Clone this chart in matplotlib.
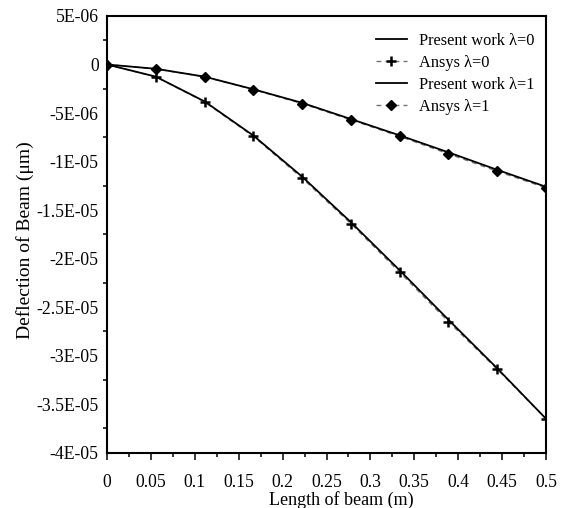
import matplotlib
matplotlib.use('Agg')
import matplotlib.pyplot as plt
from matplotlib.ticker import FixedLocator, FixedFormatter, MultipleLocator

plt.rcParams['font.family'] = ['Liberation Serif', 'DejaVu Serif']

# beam positions (m)
length = [0, 0.0556, 0.1111, 0.1667, 0.2222, 0.2778, 0.3333, 0.3889, 0.4444, 0.5]

# deflection, lambda = 0
present_l0 = [0, -1.25e-6, -3.80e-6, -7.32e-6, -11.55e-6, -16.25e-6, -21.2e-6, -26.3e-6, -31.3e-6, -36.5e-6]
ansys_l0 = [0, -1.27e-6, -3.85e-6, -7.40e-6, -11.7e-6, -16.4e-6, -21.4e-6, -26.5e-6, -31.4e-6, -36.5e-6]

# deflection, lambda = 1
present_l1 = [0, -0.44e-6, -1.25e-6, -2.55e-6, -3.95e-6, -5.62e-6, -7.30e-6, -9.05e-6, -10.85e-6, -12.6e-6]
ansys_l1 = [0, -0.45e-6, -1.27e-6, -2.58e-6, -4.02e-6, -5.70e-6, -7.40e-6, -9.20e-6, -11.0e-6, -12.7e-6]

y_ticks = [5e-6, 0, -5e-6, -1e-5, -1.5e-5, -2e-5, -2.5e-5, -3e-5, -3.5e-5, -4e-5]
y_labels = ['5E-06', '0', '-5E-06', '-1E-05', '-1.5E-05', '-2E-05', '-2.5E-05', '-3E-05', '-3.5E-05', '-4E-05']
x_ticks = [0, 0.05, 0.1, 0.15, 0.2, 0.25, 0.3, 0.35, 0.4, 0.45, 0.5]
x_labels = ['0', '0.05', '0.1', '0.15', '0.2', '0.25', '0.3', '0.35', '0.4', '0.45', '0.5']

fs = 12.7

fig = plt.figure(figsize=(5.63, 5.08), dpi=100)
ax = fig.add_axes([107 / 563, 1 - 452.7 / 508, 439 / 563, 436.7 / 508])

ax.plot(length, ansys_l0, color='0.45', lw=1.0, dashes=(3.5, 3), marker='+', ms=7, mew=1.8,
        mec='black', label='Ansys λ=0', zorder=2)
ax.plot(length, ansys_l1, color='0.45', lw=1.0, dashes=(3.5, 3), marker='D', ms=5.5,
        mec='black', mfc='black', label='Ansys λ=1', zorder=2)
ax.plot(length, present_l0, color='black', lw=1.3, label='Present work λ=0', zorder=3)
ax.plot(length, present_l1, color='black', lw=1.3, label='Present work λ=1', zorder=3)

ax.set_xlim(0, 0.5)
ax.set_ylim(-4e-5, 5e-6)

ax.xaxis.set_major_locator(FixedLocator(x_ticks))
ax.xaxis.set_major_formatter(FixedFormatter(x_labels))
ax.xaxis.set_minor_locator(MultipleLocator(0.025))
ax.yaxis.set_major_locator(FixedLocator(y_ticks))
ax.yaxis.set_major_formatter(FixedFormatter(y_labels))
ax.yaxis.set_minor_locator(FixedLocator([2.5e-6 - 5e-6 * i for i in range(9)]))

ax.tick_params(axis='x', which='major', direction='out', length=5, width=1.1, pad=10, labelsize=fs)
ax.tick_params(axis='x', which='minor', direction='out', length=3, width=1.1)
ax.tick_params(axis='y', which='major', length=0, pad=6, labelsize=fs)
ax.tick_params(axis='y', which='minor', direction='out', length=2.6, width=1.1)

for sp in ax.spines.values():
    sp.set_linewidth(1.5)

ax.set_xlabel('Length of beam (m)', fontsize=13)
ax.xaxis.set_label_coords(0.533, -0.0885)
ax.set_ylabel('Deflection of Beam (μm)', fontsize=14)
ax.yaxis.set_label_coords(-0.167, 0.487)

h, l = ax.get_legend_handles_labels()
order = [2, 0, 3, 1]
ax.legend([h[i] for i in order], [l[i] for i in order], frameon=False, fontsize=11.8,
          loc='upper right', bbox_to_anchor=(1.0, 0.988), handlelength=1.9,
          handletextpad=0.75, labelspacing=0.37, numpoints=1, borderaxespad=0.3)

fig.savefig('out.png', dpi=100)
